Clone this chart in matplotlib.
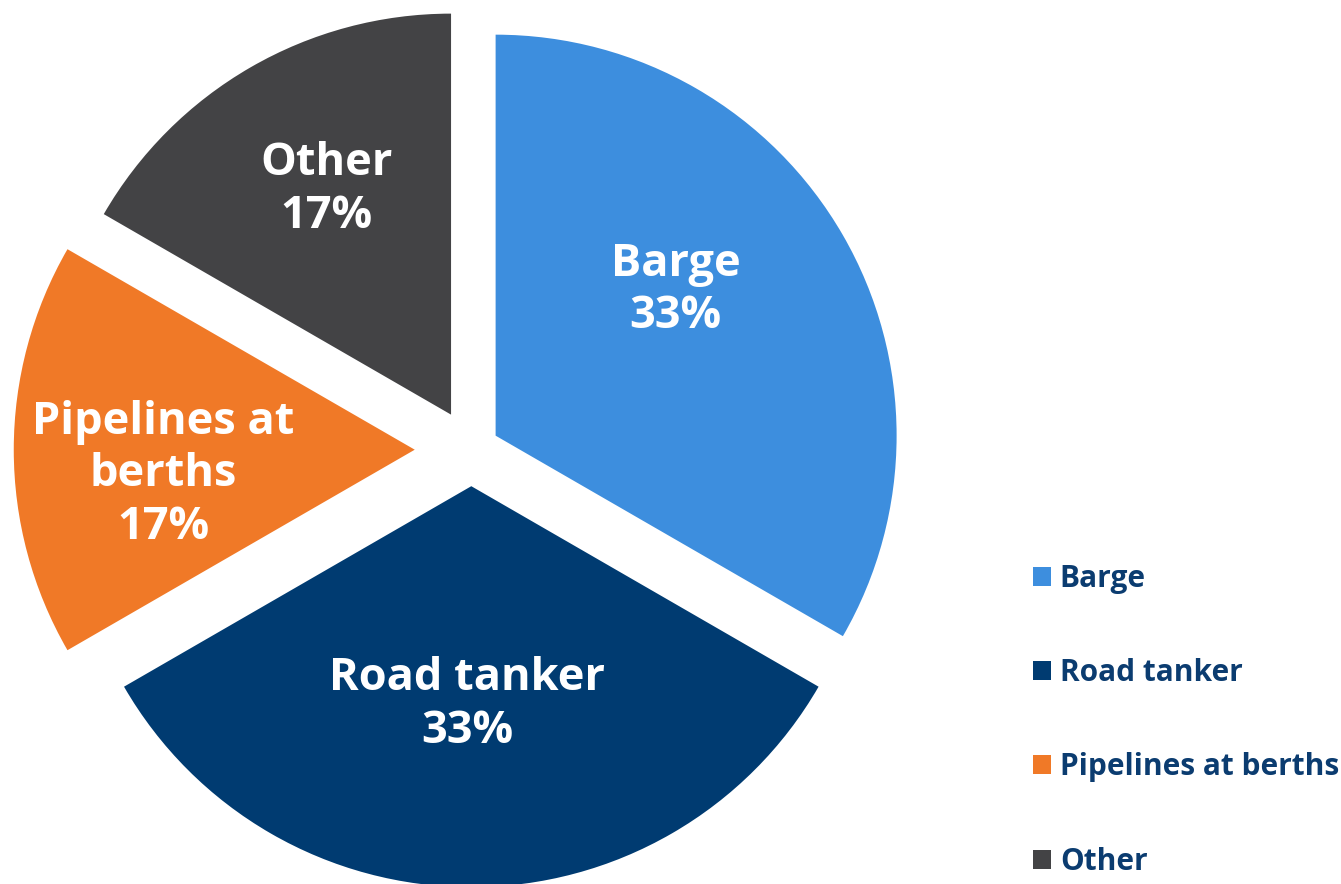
import matplotlib
matplotlib.use("Agg")
import matplotlib.pyplot as plt
import numpy as np

categories = ["Barge", "Road tanker", "Pipelines at berths", "Other"]
values = [2, 2, 1, 1]
slice_labels = ["Barge\n33%", "Road tanker\n33%", "Pipelines at\nberths\n17%", "Other\n17%"]
colors = ["#3D8EDE", "#003B71", "#F07927", "#434345"]
explode = [0.070, 0.091, 0.141, 0.101]

W, H = 1341, 884
R = 401.0
cx, cy = 471.3, H - 449.7

fig = plt.figure(figsize=(W / 100, H / 100), dpi=100)
ax = fig.add_axes([0, 0, 1, 1])
wedges, _ = ax.pie(values, colors=colors, startangle=90, counterclock=False,
                   explode=explode, radius=1.0, wedgeprops=dict(linewidth=0))
ax.set_aspect("auto")
ax.set_xlim(-cx / R, (W - cx) / R)
ax.set_ylim(-cy / R, (H - cy) / R)
ax.axis("off")

font = ["Open Sans", "DejaVu Sans"]
# label position relative to each wedge's (exploded) apex: (distance fraction, angle deg)
label_pos = [(0.577, 38.9), (0.546, -91.0), (0.63, 185.7), (0.64, 119.0)]
for w, lab, (d, a) in zip(wedges, slice_labels, label_pos):
    x0, y0 = w.center
    ax.text(x0 + d * np.cos(np.radians(a)), y0 + d * np.sin(np.radians(a)), lab,
            ha="center", va="center", color="white", fontsize=32.5, fontweight="bold",
            family=font, linespacing=1.22)

leg = fig.legend(wedges, categories, loc="upper left",
                 bbox_to_anchor=(1033 / W, 1 - 564 / H), frameon=False,
                 prop=dict(family=font, weight="bold", size=21.5),
                 handlelength=0.6, handleheight=0.6, handletextpad=0.3,
                 labelspacing=2.15, borderpad=0, borderaxespad=0)
for t in leg.get_texts():
    t.set_color("#0B3C70")

fig.savefig("out.png", dpi=100)
